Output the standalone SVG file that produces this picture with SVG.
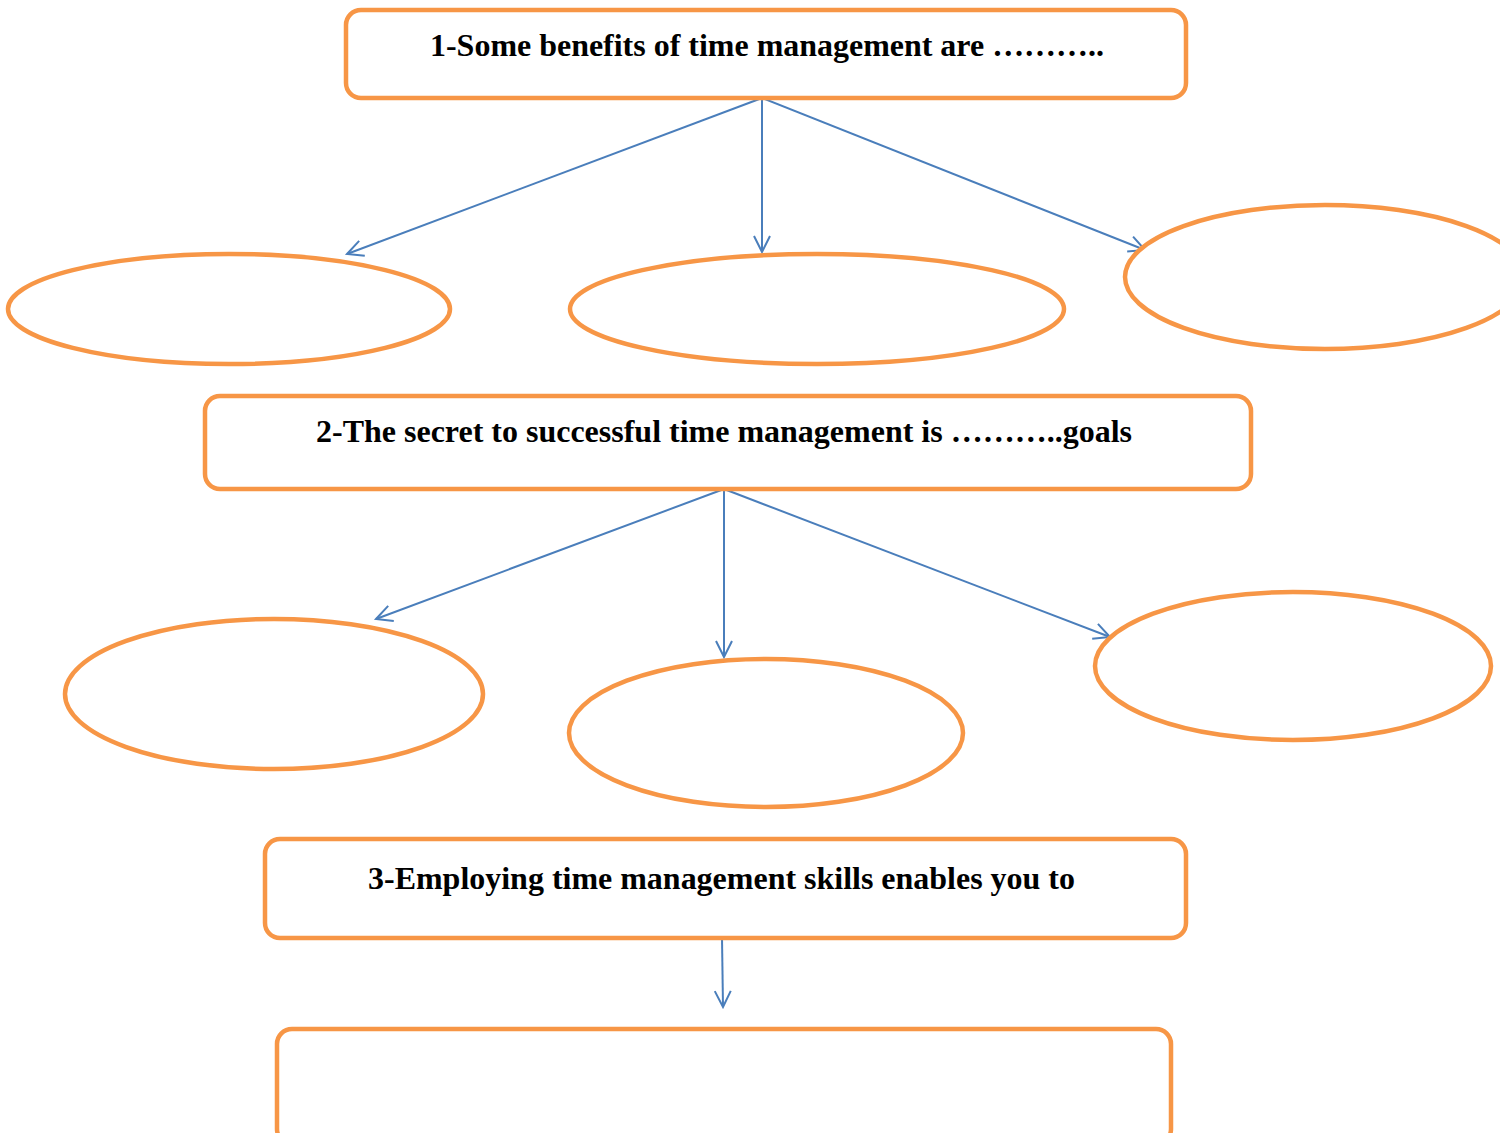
<svg xmlns="http://www.w3.org/2000/svg" width="1500" height="1133" viewBox="0 0 1500 1133">
<style>
.box{fill:#fff;stroke:#F79646;stroke-width:4.5}
.ell{fill:#fff;stroke:#F79646;stroke-width:4.5}
.lbl{font-family:"Liberation Serif","Times New Roman",serif;font-weight:bold;font-size:32px;fill:#000}
.con{stroke:#4A7EBB;stroke-width:2;fill:none}
</style>
<defs>
<marker id="ah" viewBox="0 0 20 20" refX="18" refY="10" markerWidth="20" markerHeight="20" markerUnits="userSpaceOnUse" orient="auto">
<path d="M2,2 L18,10 L2,18" fill="none" stroke="#4A7EBB" stroke-width="2"/>
</marker>
</defs>
<rect width="1500" height="1133" fill="#fff"/>
<g id="connectors">
<line class="con" x1="762" y1="98" x2="347" y2="254" marker-end="url(#ah)"/>
<line class="con" x1="762" y1="98" x2="762" y2="252" marker-end="url(#ah)"/>
<line class="con" x1="762" y1="98" x2="1145" y2="250" marker-end="url(#ah)"/>
<line class="con" x1="724" y1="489" x2="376" y2="619" marker-end="url(#ah)"/>
<line class="con" x1="724" y1="489" x2="724" y2="657" marker-end="url(#ah)"/>
<line class="con" x1="724" y1="489" x2="1110" y2="637" marker-end="url(#ah)"/>
<line class="con" x1="722" y1="938" x2="723" y2="1007" marker-end="url(#ah)"/>
</g>
<g id="q1">
<rect class="box" x="346" y="10" width="840" height="88" rx="15"/>
<text class="lbl" x="430" y="56" textLength="674" lengthAdjust="spacingAndGlyphs">1-Some benefits of time management are ………..</text>
</g>
<g id="e1"><ellipse class="ell" cx="229" cy="309" rx="221" ry="55"/></g>
<g id="e2"><ellipse class="ell" cx="817" cy="309" rx="247" ry="55"/></g>
<g id="e3"><ellipse class="ell" cx="1325" cy="277" rx="200" ry="72"/></g>
<g id="q2">
<rect class="box" x="205" y="396" width="1046" height="93" rx="15"/>
<text class="lbl" x="316" y="442" textLength="816" lengthAdjust="spacingAndGlyphs">2-The secret to successful time management is ………..goals</text>
</g>
<g id="e4"><ellipse class="ell" cx="274" cy="694" rx="209" ry="75"/></g>
<g id="e5"><ellipse class="ell" cx="766" cy="733" rx="197" ry="74"/></g>
<g id="e6"><ellipse class="ell" cx="1293" cy="666" rx="198" ry="74"/></g>
<g id="q3">
<rect class="box" x="265" y="839" width="921" height="99" rx="15"/>
<text class="lbl" x="368" y="889" textLength="707" lengthAdjust="spacingAndGlyphs">3-Employing time management skills enables you to</text>
</g>
<g id="a3">
<rect class="box" x="277" y="1029" width="894" height="115" rx="15"/>
</g>
</svg>
